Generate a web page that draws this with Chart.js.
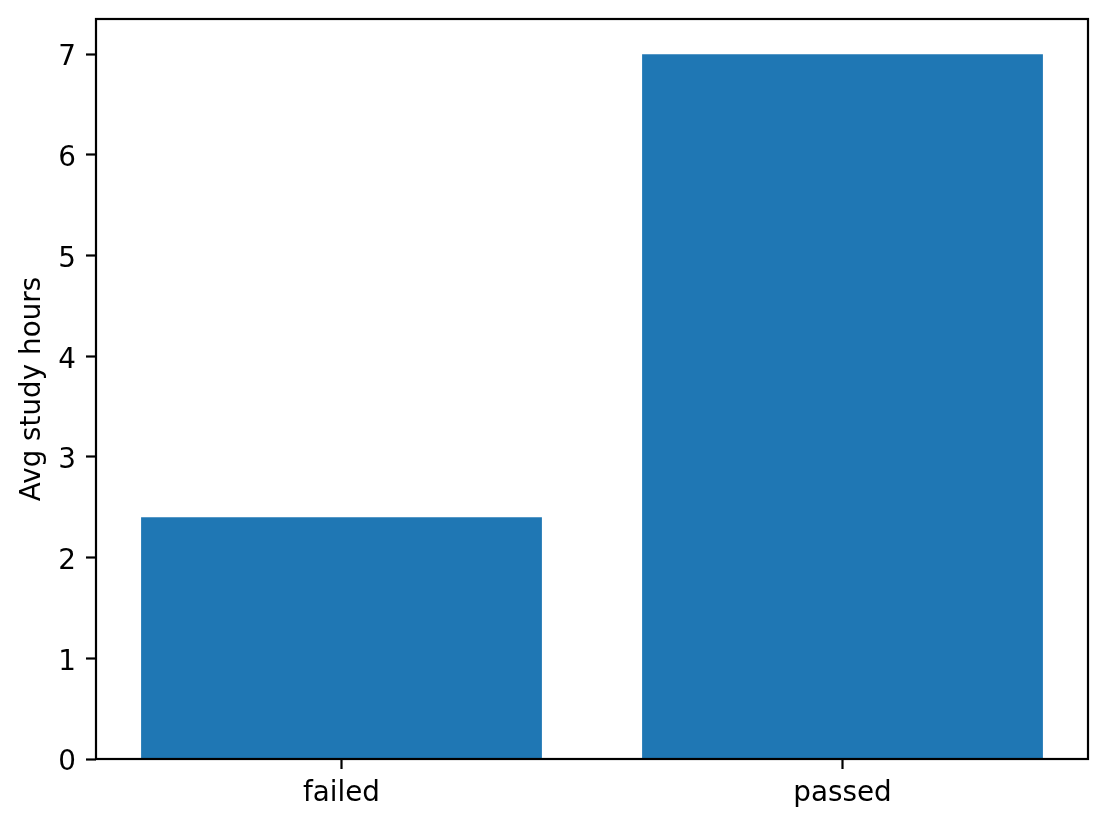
<!DOCTYPE html>
<html><head><meta charset="utf-8">
<script src="https://cdn.jsdelivr.net/npm/chart.js@4"></script>
<style>html,body{margin:0;padding:0;background:#fff;overflow:hidden;} canvas{display:block;}</style>
</head><body>
<canvas id="c" width="1108" height="826"></canvas>
<script>
const categories = ['failed', 'passed'];
const avgStudyHours = [2.4, 7.0];
const yTickValues = [0, 1, 2, 3, 4, 5, 6, 7];
const yAxisTitle = 'Avg study hours';

const FONT = 'DejaVu Sans';
const FS = 27.8;
const LW = 2.2;

const spines = {
  id: 'spines',
  afterDatasetsDraw(chart) {
    const {ctx, chartArea: a} = chart;
    ctx.save();
    ctx.strokeStyle = '#000';
    ctx.lineWidth = LW;
    ctx.lineJoin = 'miter';
    ctx.strokeRect(a.left, a.top, a.right - a.left, a.bottom - a.top);
    ctx.restore();
  }
};

new Chart(document.getElementById('c'), {
  type: 'bar',
  data: {
    datasets: [{
      data: categories.map((c, i) => ({x: i, y: avgStudyHours[i]})),
      backgroundColor: '#1f77b4',
      borderWidth: 0,
      categoryPercentage: 1.0,
      barPercentage: 0.8
    }]
  },
  options: {
    responsive: false,
    devicePixelRatio: 1,
    animation: false,
    events: [],
    layout: {padding: {left: 0, top: 19, right: 20, bottom: 0}},
    plugins: {legend: {display: false}, tooltip: {enabled: false}},
    scales: {
      x: {
        type: 'linear',
        offset: false,
        min: -0.49,
        max: 1.49,
        afterBuildTicks: s => { s.ticks = categories.map((c, i) => ({value: i})); },
        afterFit: s => { s.height = 67; s.paddingLeft = 0; s.paddingRight = 0; },
        border: {display: false},
        grid: {offset: false, drawOnChartArea: false, drawTicks: true, tickLength: 10, tickWidth: LW, tickColor: '#000'},
        ticks: {
          callback: v => categories[v],
          color: '#000',
          font: {family: FONT, size: FS},
          padding: 8,
          maxRotation: 0,
          autoSkip: false
        }
      },
      y: {
        type: 'linear',
        min: 0,
        max: 7.35,
        afterBuildTicks: s => { s.ticks = yTickValues.map(v => ({value: v})); },
        afterFit: s => { s.width = 96; s.paddingTop = 0; s.paddingBottom = 0; },
        border: {display: false},
        grid: {drawOnChartArea: false, drawTicks: true, tickLength: 10, tickWidth: LW, tickColor: '#000'},
        ticks: {
          color: '#000',
          font: {family: FONT, size: FS},
          padding: 10,
          labelOffset: 4,
          autoSkip: false
        },
        title: {
          display: true,
          text: yAxisTitle,
          color: '#000',
          font: {family: FONT, size: FS, lineHeight: 1.2},
          padding: {top: 16, bottom: 0}
        }
      }
    }
  },
  plugins: [spines]
});
</script>
</body></html>
